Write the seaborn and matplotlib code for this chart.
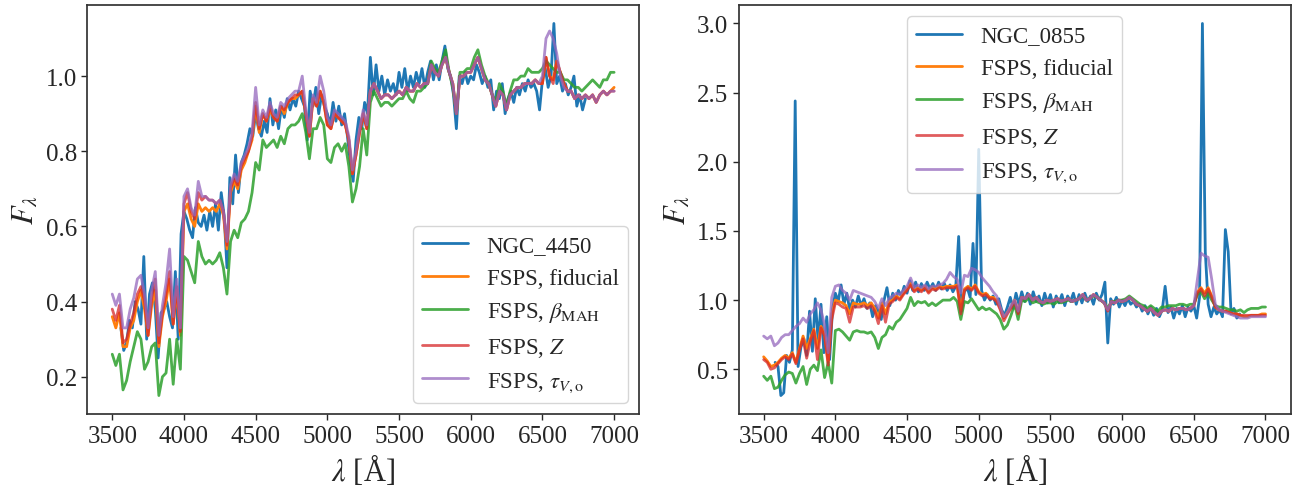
import matplotlib
import matplotlib.pyplot as plt
import numpy as np
import seaborn as sns

matplotlib.use("Agg")

# wavelength grids (Angstrom)
wave_model = np.arange(3500, 7001, 25)
wave_obs_left = np.arange(3560, 6801, 20)
wave_obs_right = np.arange(3580, 6821, 20)

# ---- left panel: NGC_4450 ----
obs_left = [
    0.33, 0.27, 0.29, 0.35, 0.33, 0.40, 0.38, 0.34, 0.52, 0.30,
    0.42, 0.45, 0.38, 0.25, 0.37, 0.38, 0.40, 0.36, 0.33, 0.48,
    0.30, 0.58, 0.64, 0.62, 0.59, 0.57, 0.65, 0.61, 0.60, 0.63,
    0.59, 0.64, 0.60, 0.66, 0.59, 0.69, 0.63, 0.49, 0.73, 0.66,
    0.79, 0.69, 0.77, 0.79, 0.82, 0.86, 0.84, 0.90, 0.86, 0.84,
    0.88, 0.85, 0.94, 0.87, 0.91, 0.86, 0.92, 0.89, 0.94, 0.91,
    0.94, 0.92, 0.96, 0.94, 0.92, 0.83, 0.96, 0.92, 0.97, 0.90,
    0.95, 0.92, 0.90, 0.87, 0.93, 0.88, 0.92, 0.87, 0.90, 0.84,
    0.77, 0.72, 0.83, 0.89, 0.86, 0.93, 0.90, 1.05, 0.95, 1.03,
    0.96, 1.00, 0.95, 0.99, 0.96, 0.98, 0.95, 1.01, 0.97, 1.02,
    0.96, 1.00, 0.97, 1.01, 0.98, 1.02, 0.97, 1.01, 1.04, 0.99,
    1.03, 0.99, 1.04, 1.08, 1.02, 1.00, 0.95, 0.86, 1.00, 0.98,
    1.01, 0.98, 1.00, 0.99, 1.03, 1.01, 0.98, 1.00, 0.97, 0.99,
    0.91, 0.96, 0.94, 0.98, 0.90, 0.94, 0.96, 0.93, 0.97, 0.95,
    0.98, 0.96, 0.99, 0.97, 0.98, 0.96, 0.91, 0.99, 1.02, 0.97,
    1.00, 1.14, 0.98, 1.00, 0.96, 0.98, 0.95, 0.97, 1.00, 0.92,
    0.95, 0.91, 0.94,
]
fid_left = [
    0.36, 0.33, 0.37, 0.28, 0.28, 0.33, 0.35, 0.40,
    0.43, 0.38, 0.31, 0.39, 0.43, 0.28, 0.36, 0.40,
    0.46, 0.34, 0.43, 0.31, 0.64, 0.66, 0.62, 0.60,
    0.66, 0.64, 0.65, 0.64, 0.65, 0.64, 0.66, 0.63,
    0.54, 0.69, 0.72, 0.70, 0.75, 0.77, 0.80, 0.83,
    0.92, 0.85, 0.90, 0.88, 0.91, 0.89, 0.88, 0.92,
    0.90, 0.93, 0.94, 0.94, 0.95, 0.96, 0.90, 0.84,
    0.94, 0.92, 0.96, 0.93, 0.87, 0.86, 0.90, 0.89,
    0.88, 0.87, 0.83, 0.74, 0.79, 0.85, 0.90, 0.86,
    0.96, 0.98, 0.96, 0.94, 0.95, 0.95, 0.94, 0.95,
    0.96, 0.95, 0.97, 0.96, 0.96, 0.98, 0.97, 0.98,
    0.98, 1.03, 1.01, 1.00, 1.03, 1.05, 1.01, 0.98,
    0.90, 1.00, 1.00, 1.01, 1.01, 1.03, 1.05, 1.02,
    0.99, 0.98, 0.95, 0.92, 0.96, 0.95, 0.91, 0.95,
    0.96, 0.97, 0.97, 0.98, 0.98, 0.98, 0.99, 0.98,
    0.98, 1.05, 1.00, 0.99, 1.04, 1.01, 0.98, 0.96,
    0.96, 0.94, 0.95, 0.94, 0.95, 0.94, 0.95, 0.93,
    0.95, 0.96, 0.95, 0.96, 0.97,
]
beta_left = [
    0.26, 0.23, 0.26, 0.165, 0.19, 0.24, 0.28, 0.32,
    0.30, 0.22, 0.24, 0.28, 0.29, 0.15, 0.20, 0.21,
    0.30, 0.18, 0.30, 0.22, 0.52, 0.51, 0.48, 0.45,
    0.56, 0.52, 0.50, 0.51, 0.50, 0.51, 0.53, 0.49,
    0.42, 0.56, 0.59, 0.57, 0.61, 0.62, 0.64, 0.69,
    0.77, 0.75, 0.83, 0.81, 0.82, 0.83, 0.81, 0.84,
    0.82, 0.86, 0.87, 0.87, 0.88, 0.90, 0.85, 0.78,
    0.86, 0.86, 0.89, 0.87, 0.78, 0.77, 0.81, 0.82,
    0.80, 0.82, 0.76, 0.665, 0.70, 0.76, 0.86, 0.79,
    0.93, 0.96, 0.94, 0.92, 0.93, 0.93, 0.92, 0.93,
    0.94, 0.94, 0.96, 0.94, 0.93, 0.96, 0.96, 0.97,
    0.98, 1.04, 1.02, 1.01, 1.04, 1.07, 1.01, 0.97,
    0.90, 1.01, 1.01, 1.02, 1.02, 1.05, 1.07, 1.03,
    1.00, 0.98, 0.95, 0.93, 0.98, 0.96, 0.92, 0.96,
    0.99, 0.99, 1.00, 1.00, 1.02, 1.01, 1.01, 1.01,
    1.02, 1.04, 1.03, 1.02, 1.01, 1.01, 0.99, 0.99,
    0.98, 0.97, 0.97, 0.96, 0.97, 0.98, 0.99, 0.98,
    0.97, 0.99, 0.99, 1.01, 1.01,
]
z_left = [
    0.38, 0.35, 0.39, 0.29, 0.30, 0.34, 0.37, 0.42,
    0.44, 0.40, 0.31, 0.41, 0.46, 0.29, 0.37, 0.42,
    0.48, 0.34, 0.44, 0.32, 0.66, 0.69, 0.64, 0.62,
    0.69, 0.67, 0.68, 0.67, 0.67, 0.66, 0.67, 0.64,
    0.55, 0.70, 0.73, 0.71, 0.76, 0.78, 0.80, 0.84,
    0.93, 0.86, 0.90, 0.88, 0.92, 0.89, 0.88, 0.92,
    0.91, 0.93, 0.94, 0.95, 0.95, 0.96, 0.90, 0.84,
    0.94, 0.92, 0.96, 0.93, 0.87, 0.86, 0.90, 0.89,
    0.88, 0.87, 0.83, 0.74, 0.79, 0.85, 0.90, 0.86,
    0.96, 0.98, 0.96, 0.94, 0.95, 0.95, 0.94, 0.95,
    0.96, 0.95, 0.97, 0.96, 0.96, 0.98, 0.97, 0.98,
    0.98, 1.03, 1.01, 1.00, 1.03, 1.05, 1.01, 0.98,
    0.90, 1.00, 1.00, 1.01, 1.01, 1.03, 1.05, 1.02,
    0.99, 0.98, 0.95, 0.92, 0.96, 0.95, 0.91, 0.95,
    0.96, 0.97, 0.97, 0.98, 0.98, 0.98, 0.99, 0.98,
    0.98, 1.05, 1.00, 0.98, 1.04, 1.01, 0.98, 0.96,
    0.96, 0.94, 0.95, 0.94, 0.95, 0.94, 0.95, 0.93,
    0.95, 0.96, 0.95, 0.96, 0.96,
]
tau_left = [
    0.42, 0.39, 0.42, 0.33, 0.33, 0.38, 0.41, 0.46,
    0.47, 0.42, 0.33, 0.43, 0.48, 0.31, 0.39, 0.45,
    0.54, 0.36, 0.46, 0.33, 0.68, 0.70, 0.65, 0.63,
    0.72, 0.68, 0.68, 0.67, 0.67, 0.66, 0.67, 0.64,
    0.56, 0.71, 0.74, 0.72, 0.77, 0.79, 0.81, 0.85,
    0.97, 0.87, 0.91, 0.89, 0.93, 0.90, 0.89, 0.93,
    0.92, 0.94, 0.95, 0.96, 0.96, 1.00, 0.91, 0.85,
    0.95, 0.93, 1.00, 0.96, 0.89, 0.87, 0.91, 0.90,
    0.89, 0.88, 0.84, 0.75, 0.80, 0.86, 0.91, 0.87,
    0.96, 0.98, 0.96, 0.94, 0.95, 0.95, 0.94, 0.95,
    0.96, 0.95, 0.97, 0.96, 0.96, 0.98, 0.97, 0.98,
    0.98, 1.03, 1.01, 1.00, 1.03, 1.05, 1.01, 0.98,
    0.90, 1.00, 1.00, 1.01, 1.01, 1.03, 1.05, 1.02,
    0.99, 0.98, 0.95, 0.92, 0.96, 0.95, 0.91, 0.95,
    0.96, 0.97, 0.97, 0.98, 0.98, 0.98, 0.99, 0.98,
    1.00, 1.10, 1.12, 1.10, 1.06, 1.00, 0.97, 0.96,
    0.96, 0.94, 0.95, 0.94, 0.95, 0.94, 0.95, 0.93,
    0.95, 0.96, 0.95, 0.96, 0.96,
]

# ---- right panel: NGC_0855 ----
obs_right = [
    0.55, 0.52, 0.31, 0.33, 0.60, 0.55, 0.64, 2.44, 0.52, 0.66,
    0.72, 0.60, 0.92, 0.63, 1.01, 0.70, 0.97, 0.62, 0.88, 0.57,
    0.93, 1.05, 0.99, 1.11, 0.97, 1.05, 0.93, 1.00, 0.95, 1.03,
    0.96, 1.01, 0.94, 0.98, 0.88, 0.96, 0.92, 0.86, 1.00, 1.09,
    0.96, 1.05, 1.00, 1.07, 1.03, 1.10, 1.05, 1.14, 1.07, 1.13,
    1.06, 1.12, 1.07, 1.13, 1.08, 1.12, 1.07, 1.13, 1.08, 1.12,
    1.07, 1.11, 1.06, 1.10, 1.46, 0.92, 1.06, 1.09, 1.02, 1.41,
    1.04, 2.09, 1.07, 1.00, 1.04, 1.00, 1.03, 0.97, 1.01, 0.93,
    0.89, 0.95, 1.02, 0.94, 1.05, 0.97, 1.06, 0.99, 1.05, 0.97,
    1.06, 0.99, 1.03, 0.96, 1.05, 0.98, 1.04, 0.95, 1.03, 0.98,
    1.04, 0.96, 1.03, 0.99, 1.05, 0.97, 1.04, 0.98, 1.05, 0.99,
    1.03, 0.97, 1.05, 1.00, 1.04, 1.13, 0.69, 1.01, 0.97, 1.02,
    0.95, 1.00, 0.96, 1.01, 0.97, 0.99, 0.95, 0.97, 0.92, 0.96,
    0.90, 0.95, 0.89, 0.94, 0.88, 0.93, 1.10, 0.91, 0.95, 0.87,
    0.94, 0.90, 0.96, 0.88, 0.95, 0.92, 0.96, 0.87, 1.02, 3.00,
    1.35, 0.97, 0.88, 0.95, 0.90, 0.93, 0.88, 1.51, 1.35, 0.90,
    0.94, 0.87, 0.90,
]
fid_right = [
    0.59, 0.56, 0.52, 0.53, 0.55, 0.58, 0.60, 0.58,
    0.62, 0.55, 0.65, 0.74, 0.65, 0.72, 0.79, 0.65,
    0.81, 0.75, 0.55, 0.90, 1.00, 0.99, 0.98, 0.96,
    0.90, 0.98, 0.97, 0.97, 0.98, 0.96, 0.98, 0.94,
    0.87, 0.98, 0.90, 0.99, 1.00, 1.03, 1.01, 1.05,
    1.08, 1.12, 1.07, 1.09, 1.07, 1.10, 1.06, 1.09,
    1.08, 1.10, 1.09, 1.10, 1.10, 1.10, 1.11, 0.93,
    1.08, 1.10, 1.08, 1.11, 1.06, 1.04, 1.05, 1.02,
    1.02, 1.00, 0.94, 0.87, 0.91, 0.95, 1.00, 0.91,
    1.02, 1.01, 1.04, 1.00, 1.02, 0.99, 0.98, 1.00,
    0.99, 1.00, 1.01, 0.99, 1.00, 1.01, 0.99, 1.00,
    1.01, 1.04, 1.00, 1.01, 1.04, 1.02, 1.00, 0.98,
    0.93, 0.99, 0.98, 1.00, 0.99, 1.00, 1.02, 1.00,
    0.97, 0.96, 0.94, 0.92, 0.94, 0.91, 0.89, 0.92,
    0.93, 0.92, 0.94, 0.93, 0.94, 0.94, 0.93, 0.94,
    0.96, 1.06, 1.09, 1.05, 1.09, 1.03, 0.95, 0.93,
    0.92, 0.92, 0.91, 0.90, 0.90, 0.89, 0.88, 0.88,
    0.89, 0.89, 0.89, 0.90, 0.90,
]
beta_right = [
    0.45, 0.42, 0.45, 0.36, 0.37, 0.42, 0.46, 0.48,
    0.47, 0.40, 0.47, 0.52, 0.39, 0.50, 0.53, 0.49,
    0.64, 0.44, 0.55, 0.40, 0.78, 0.79, 0.77, 0.74,
    0.71, 0.77, 0.78, 0.77, 0.77, 0.76, 0.77, 0.73,
    0.65, 0.73, 0.75, 0.81, 0.79, 0.84, 0.86, 0.90,
    0.94, 1.02, 0.96, 0.99, 0.98, 0.99, 0.96, 0.98,
    0.96, 0.98, 1.00, 1.00, 1.00, 1.02, 0.99, 0.86,
    0.99, 0.98, 1.01, 0.97, 0.93, 0.95, 0.93, 0.94,
    0.92, 0.90, 0.86, 0.79, 0.82, 0.89, 0.97, 0.86,
    1.00, 0.99, 1.02, 0.98, 0.99, 0.98, 0.97, 0.98,
    0.98, 0.97, 0.99, 0.98, 0.99, 1.00, 0.99, 1.00,
    1.01, 1.03, 1.00, 1.01, 1.03, 1.02, 1.00, 0.98,
    0.94, 0.99, 0.99, 1.00, 1.00, 1.01, 1.03, 1.01,
    0.99, 0.97, 0.96, 0.94, 0.96, 0.94, 0.92, 0.95,
    0.95, 0.96, 0.96, 0.96, 0.97, 0.97, 0.96, 0.97,
    0.97, 1.04, 1.06, 1.01, 1.05, 1.00, 0.96, 0.95,
    0.95, 0.94, 0.93, 0.93, 0.92, 0.93, 0.91, 0.93,
    0.94, 0.94, 0.94, 0.95, 0.95,
]
z_right = [
    0.57, 0.55, 0.50, 0.51, 0.54, 0.57, 0.59, 0.57,
    0.61, 0.54, 0.64, 0.72, 0.58, 0.70, 0.78, 0.57,
    0.80, 0.74, 0.53, 0.86, 0.98, 0.97, 0.95, 0.94,
    0.84, 0.95, 0.95, 0.95, 0.96, 0.94, 0.96, 0.92,
    0.83, 0.96, 0.84, 0.97, 0.99, 1.02, 1.00, 1.04,
    1.07, 1.11, 1.06, 1.08, 1.06, 1.09, 1.05, 1.08,
    1.07, 1.09, 1.08, 1.09, 1.09, 1.09, 1.10, 0.90,
    1.07, 1.09, 1.07, 1.10, 1.05, 1.03, 1.04, 1.01,
    1.01, 0.99, 0.93, 0.85, 0.90, 0.94, 0.99, 0.90,
    1.02, 1.01, 1.04, 1.00, 1.02, 0.99, 0.98, 1.00,
    0.99, 1.00, 1.01, 0.99, 1.00, 1.01, 0.99, 1.00,
    1.01, 1.04, 1.00, 1.01, 1.04, 1.02, 1.00, 0.98,
    0.92, 0.99, 0.98, 1.00, 0.99, 1.00, 1.02, 1.00,
    0.97, 0.96, 0.94, 0.92, 0.94, 0.91, 0.89, 0.92,
    0.93, 0.92, 0.94, 0.93, 0.94, 0.94, 0.93, 0.94,
    0.96, 1.05, 1.08, 1.03, 1.08, 1.02, 0.95, 0.93,
    0.92, 0.92, 0.91, 0.90, 0.90, 0.89, 0.89, 0.89,
    0.89, 0.89, 0.89, 0.89, 0.89,
]
tau_right = [
    0.74, 0.72, 0.74, 0.67, 0.69, 0.73, 0.75, 0.75,
    0.78, 0.81, 0.83, 0.87, 0.84, 0.90, 0.93, 0.98,
    0.93, 0.82, 0.62, 1.02, 1.10, 1.11, 1.07, 1.05,
    1.00, 1.07, 1.06, 1.05, 1.04, 1.03, 1.02, 0.99,
    0.94, 1.01, 0.96, 1.01, 1.03, 1.05, 1.04, 1.07,
    1.10, 1.16, 1.09, 1.11, 1.09, 1.11, 1.08, 1.10,
    1.10, 1.11, 1.12, 1.15, 1.20, 1.17, 1.15, 1.05,
    1.18, 1.17, 1.23, 1.22, 1.20, 1.16, 1.13, 1.10,
    1.06, 1.03, 0.95, 0.88, 0.91, 0.96, 1.00, 0.92,
    1.02, 1.01, 1.04, 1.00, 1.02, 0.99, 0.98, 1.00,
    0.99, 1.00, 1.01, 0.99, 1.00, 1.01, 0.99, 1.00,
    1.01, 1.04, 1.00, 1.01, 1.04, 1.02, 1.00, 0.98,
    0.93, 0.99, 0.98, 1.00, 0.99, 1.00, 1.02, 1.00,
    0.97, 0.96, 0.94, 0.92, 0.94, 0.91, 0.89, 0.92,
    0.93, 0.92, 0.94, 0.93, 0.94, 0.94, 0.93, 0.94,
    0.96, 1.15, 1.34, 1.32, 1.31, 1.15, 0.97, 0.93,
    0.92, 0.91, 0.90, 0.89, 0.88, 0.87, 0.87, 0.87,
    0.88, 0.88, 0.88, 0.88, 0.88,
]

model_labels = [
    "FSPS, fiducial",
    r"FSPS, $\beta_{\rm MAH}$",
    r"FSPS, $Z$",
    r"FSPS, $\tau_{V,{\rm o}}$",
]
model_colors = ["#ff7f0e", "#2ca02c", "#d62728", "#9467bd"]
model_alpha = [1.0, 0.85, 0.75, 0.75]

sns.set_theme(style="ticks")
plt.rcParams["font.family"] = "serif"
plt.rcParams["font.serif"] = ["Liberation Serif", "DejaVu Serif"]
plt.rcParams["mathtext.fontset"] = "stix"

fig, axes = plt.subplots(1, 2, figsize=(13.01, 4.89), dpi=100)
panels = [
    ("NGC_4450", wave_obs_left, obs_left, [fid_left, beta_left, z_left, tau_left], "lower right"),
    ("NGC_0855", wave_obs_right, obs_right, [fid_right, beta_right, z_right, tau_right], "upper center"),
]
for ax, (name, wobs, fobs, models, loc) in zip(axes, panels):
    sns.lineplot(x=wobs, y=fobs, color="#1f77b4", linewidth=2, label=name, ax=ax)
    for flux, label, color, alpha in zip(models, model_labels, model_colors, model_alpha):
        sns.lineplot(x=wave_model, y=flux, color=color, alpha=alpha, linewidth=2, label=label, ax=ax)
    ax.set_xlabel(r"$\lambda$ [Å]", fontsize=22)
    ax.set_ylabel(r"$F_\lambda$", fontsize=22)
    ax.set_xticks([3500, 4000, 4500, 5000, 5500, 6000, 6500, 7000])
    ax.tick_params(labelsize=18, direction="out", length=4, width=1)
    for spine in ax.spines.values():
        spine.set_visible(True)
        spine.set_color("#333333")
    ax.legend(loc=loc, fontsize=16.5, frameon=True)

axes[1].set_yticks([0.5, 1.0, 1.5, 2.0, 2.5, 3.0])
fig.subplots_adjust(left=0.067, right=0.992, bottom=0.151, top=0.988, wspace=0.18)
fig.savefig("out.png", dpi=100)
